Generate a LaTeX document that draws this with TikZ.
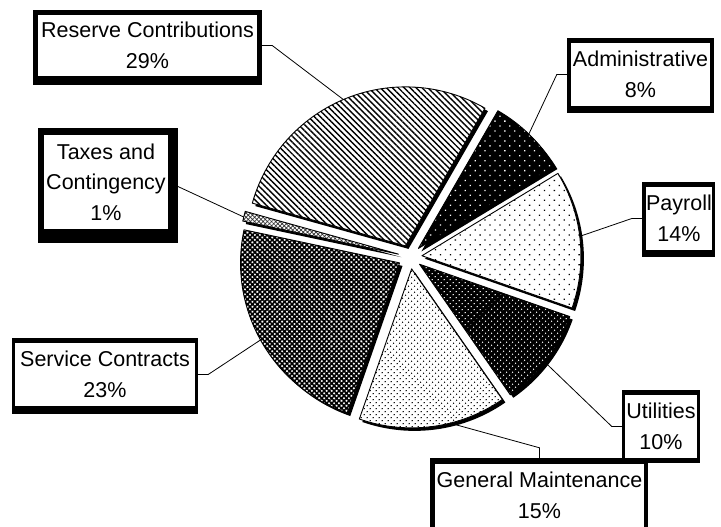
\documentclass[tikz,border=0pt]{standalone}
\usepackage{fontspec}
\setmainfont{Liberation Sans}
\usetikzlibrary{calc,patterns.meta,backgrounds}
\newcommand\lblframe[5]{\fill[black] ($(#1.south west)+(-#2,-#3)$) rectangle ($(#1.north east)+(#4,#5)$);}
\begin{document}
\begin{tikzpicture}[x=1pt,y=1pt,
  slice/.style={draw=black,line width=0.9pt,line join=round},
  adminpat/.style={preaction={fill=black},pattern={Dots[distance=7pt,angle=45,radius=0.9pt]},pattern color=white},
  payrollpat/.style={preaction={fill=white},pattern={Dots[distance=7pt,angle=45,radius=0.9pt]},pattern color=black},
  utilpat/.style={preaction={fill=black},pattern={Dots[distance=4pt,angle=45,radius=0.8pt]},pattern color=white},
  gmpat/.style={preaction={fill=white},pattern={Dots[distance=4pt,angle=45,radius=0.8pt]},pattern color=black},
  svcpat/.style={preaction={fill=white},pattern={Hatch[distance=3.5pt,angle=45,line width=1.6pt]},pattern color=black},
  taxpat/.style={preaction={fill=white},pattern={Hatch[distance=3pt,angle=45,line width=0.7pt]},pattern color=black!80},
  rsvpat/.style={preaction={fill=white},pattern={Lines[distance=4.2pt,angle=-45,line width=1.4pt]},pattern color=black},
  lbl/.style={fill=white,inner sep=0pt,align=center,font=\fontsize{21.5}{30.5}\selectfont},
  conn/.style={draw=black,line width=0.8pt}]
\useasboundingbox (0,0) rectangle (721,527);
\coordinate (C) at (410,270);
\def\R{159}
% slice tips (exploded along mid angle)
\foreach \n/\a/\b in {adm/60/31.2, pay/31.2/-19.2, utl/-19.2/-55.2, gm/-55.2/-109.2, svc/-109.2/-192, tax/-192/-195.6, rsv/-195.6/-300}{
  \pgfmathsetmacro\m{(\a+\b)/2}
  \coordinate (\n-tip) at ($(C)+(\m:12)$);
}
% shadows
\foreach \n/\a/\b in {adm/60/31.2, pay/31.2/-19.2, utl/-19.2/-55.2, gm/-55.2/-109.2, svc/-109.2/-192, tax/-192/-195.6, rsv/-195.6/-300}{
  \fill[black] ($(\n-tip)+(3,-3)$) -- ++(\a:\R) arc[start angle=\a,end angle=\b,radius=\R] -- cycle;
}
% slices
\path[slice,rsvpat] (rsv-tip) -- ++(-195.6:\R) arc[start angle=-195.6,end angle=-300,radius=\R] -- cycle;
\path[slice,adminpat] (adm-tip) -- ++(60:\R) arc[start angle=60,end angle=31.2,radius=\R] -- cycle;
\path[slice,payrollpat] (pay-tip) -- ++(31.2:\R) arc[start angle=31.2,end angle=-19.2,radius=\R] -- cycle;
\path[slice,utilpat] (utl-tip) -- ++(-19.2:\R) arc[start angle=-19.2,end angle=-55.2,radius=\R] -- cycle;
\path[slice,gmpat] (gm-tip) -- ++(-55.2:\R) arc[start angle=-55.2,end angle=-109.2,radius=\R] -- cycle;
\path[slice,svcpat] (svc-tip) -- ++(-109.2:\R) arc[start angle=-109.2,end angle=-192,radius=\R] -- cycle;
\path[slice,taxpat] (tax-tip) -- ++(-192:\R) arc[start angle=-192,end angle=-195.6,radius=\R] -- cycle;
% label boxes
\node[lbl,minimum width=219pt,minimum height=61pt] (rsvL) at (147.5,481.5) {Reserve Contributions\\29\%};
\node[lbl,minimum width=124pt,minimum height=94pt] (taxL) at (106,345) {Taxes and\\Contingency\\1\%};
\node[lbl,minimum width=139pt,minimum height=63pt] (admL) at (640.5,452.5) {Administrative\\8\%};
\node[lbl,minimum width=66pt,minimum height=63pt] (payL) at (679,308.5) {Payroll\\14\%};
\node[lbl,minimum width=180pt,minimum height=63pt] (svcL) at (105,152.5) {Service Contracts\\23\%};
\node[lbl,minimum width=72pt,minimum height=63pt] (utlL) at (661,100.5) {Utilities\\10\%};
\node[lbl,minimum width=209pt,minimum height=63pt] (gmL) at (539.5,31.5) {General Maintenance\\15\%};
\begin{scope}[on background layer]
\lblframe{rsvL}{5}{9}{5}{5}
\lblframe{taxL}{6}{14}{10}{7}
\lblframe{admL}{4}{7}{4}{5}
\lblframe{payL}{4}{7}{3}{5}
\lblframe{svcL}{3}{8}{3}{5}
\lblframe{utlL}{3}{5}{3}{5}
\lblframe{gmL}{5}{6}{4}{6}
\end{scope}
% connectors
\draw[conn] (rsvL.east) -- ++(15,0) -- ($(rsv-tip)+(113:\R)$);
\draw[conn] (taxL.east) -- ($(tax-tip)+(166.5:\R)$);
\draw[conn] (admL.west) -- ++(-14,0) -- ($(adm-tip)+(46:\R)$);
\draw[conn] (payL.west) -- ++(-14,0) -- ($(pay-tip)+(7:\R)$);
\draw[conn] (svcL.east) -- ++(13,0) -- ($(svc-tip)+(-151:\R)$);
\draw[conn] (utlL.west) -- ++(-13,0) -- ($(utl-tip)+(-38:\R)$);
\draw[conn] (gmL.north) -- ++(0,16) -- ($(gm-tip)+(-76:\R)$);
\end{tikzpicture}
\end{document}
